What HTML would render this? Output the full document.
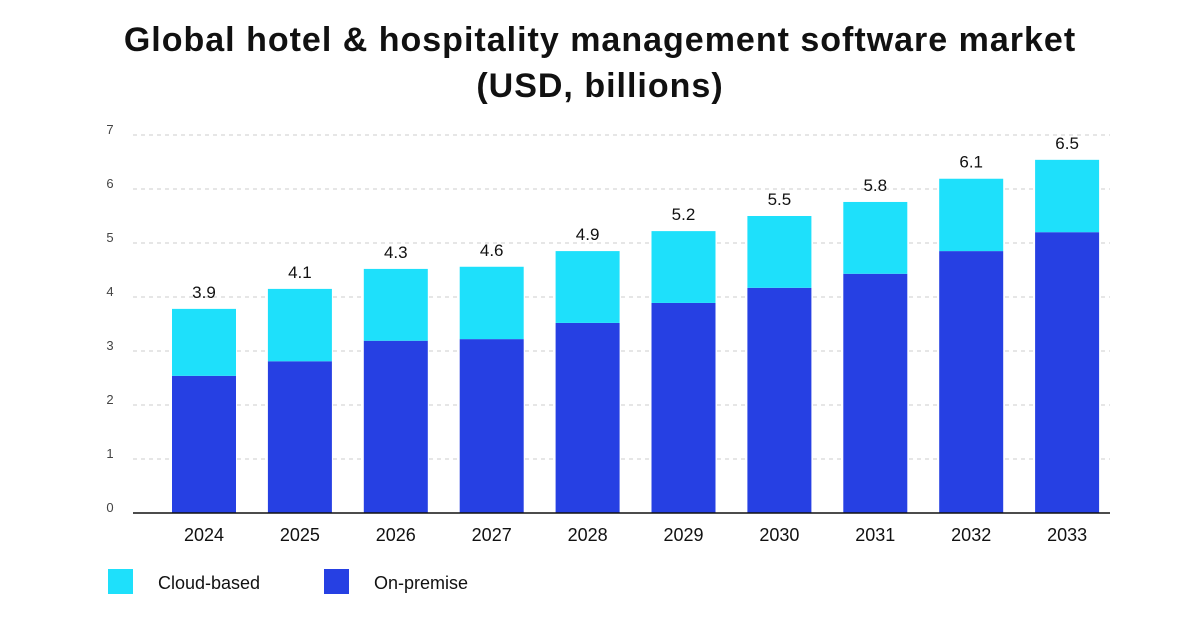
<!DOCTYPE html>
<html><head><meta charset="utf-8"><style>
body{margin:0;background:#fff;font-family:"Liberation Sans",sans-serif;}
svg{display:block}
</style></head><body>
<svg width="1200" height="630" id="c">
<text x="600" y="51" text-anchor="middle" font-size="34" letter-spacing="1" font-weight="bold" fill="#111">Global hotel &amp; hospitality management software market</text>
<text x="600" y="97" text-anchor="middle" font-size="34" letter-spacing="1" font-weight="bold" fill="#111">(USD, billions)</text>
<g id="grid"></g><g id="bars"></g>
<line x1="133" x2="1110" y1="513" y2="513" stroke="#111" stroke-width="1.5"/>
<rect x="108" y="569" width="25" height="25" fill="#1ee0fb"/>
<text x="158" y="589" font-size="18" fill="#111">Cloud-based</text>
<rect x="324" y="569" width="25" height="25" fill="#2640e3"/>
<text x="374" y="589" font-size="18" fill="#111">On-premise</text>
</svg>
<script>
const years=["2024","2025","2026","2027","2028","2029","2030","2031","2032","2033"];
const onPremise=[2.54,2.81,3.19,3.22,3.52,3.89,4.17,4.43,4.85,5.20];
const cloud=[1.24,1.34,1.33,1.34,1.33,1.33,1.33,1.33,1.34,1.34];
const totalLabels=["3.9","4.1","4.3","4.6","4.9","5.2","5.5","5.8","6.1","6.5"];
const yTicks=[0,1,2,3,4,5,6,7];
const NS="http://www.w3.org/2000/svg";
const y=v=>513-v*54;
const x=i=>204+i*95.9;
function mk(t,a,p){const e=document.createElementNS(NS,t);for(const k in a)e.setAttribute(k,a[k]);p.appendChild(e);return e;}
const g=document.getElementById('grid'),b=document.getElementById('bars');
yTicks.forEach(t=>{
 if(t>0){const l=mk('line',{x1:133,x2:1110,y1:y(t),y2:y(t),stroke:'#ccc','stroke-dasharray':'4 4'},g);
 
 }
 const tx=mk('text',{x:110,y:y(t)-1,'font-size':13,fill:'#444','text-anchor':'middle'},g);tx.textContent=t;
 
 
});
years.forEach((yr,i)=>{
 const on=mk('rect',{x:x(i)-32,y:y(onPremise[i]),width:64,height:onPremise[i]*54,fill:'#2640e3'},b);
 
 
 const tot=onPremise[i]+cloud[i];
 const cl=mk('rect',{x:x(i)-32,y:y(tot),width:64,height:cloud[i]*54,fill:'#1ee0fb'},b);
 
 
 const v=mk('text',{x:x(i),y:y(tot)-11,'font-size':17,fill:'#111','text-anchor':'middle'},b);v.textContent=totalLabels[i];
 
 
 const xl=mk('text',{x:x(i),y:541,'font-size':18,fill:'#111','text-anchor':'middle'},b);xl.textContent=yr;
 
 
});
</script>
</body></html>
